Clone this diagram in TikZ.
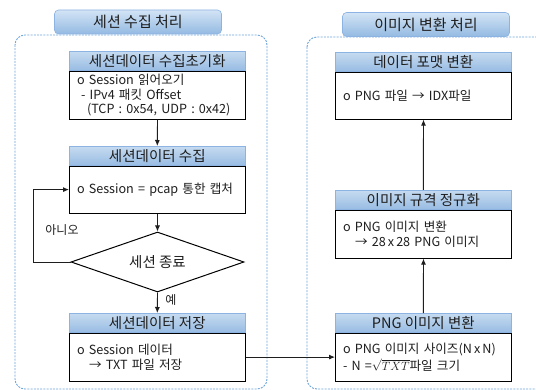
\documentclass[tikz,border=0pt]{standalone}
\usepackage{fontspec}
\setmainfont{Noto Sans CJK KR}
\usetikzlibrary{shapes.geometric,arrows.meta}
\definecolor{hdrtop}{HTML}{C6DBF0}
\definecolor{hdrbot}{HTML}{98BCE3}
\definecolor{ttltop}{HTML}{D3E4F5}
\definecolor{ttlbot}{HTML}{94BAE2}
\definecolor{hdrline}{HTML}{8DB3E2}
\definecolor{contblue}{HTML}{6FA6DC}
\definecolor{inkgray}{HTML}{1E1E1E}
\tikzset{
  hdrbox/.style={anchor=north west, minimum width=176pt, minimum height=19pt, inner sep=0pt,
    top color=hdrtop, bottom color=hdrbot, draw=hdrline, line width=0.6pt,
    text=inkgray, font=\fontsize{14.5}{15}\selectfont},
  bodybox/.style={anchor=north west, minimum height=48pt, text width=161pt, inner xsep=7.5pt, inner ysep=0pt,
    draw=black, line width=1pt, fill=white, align=left, text=inkgray,
    font=\fontsize{12.6}{14.5}\selectfont},
  ttlbox/.style={minimum width=167pt, minimum height=24pt, inner sep=0pt, rounded corners=4pt,
    top color=ttltop, bottom color=ttlbot, draw=hdrline, line width=0.6pt,
    text=inkgray, font=\fontsize{15}{16}\selectfont},
  cont/.style={draw=contblue, line width=0.9pt, dash pattern=on 2pt off 1.2pt, rounded corners=10pt},
  arr/.style={draw=inkgray, line width=0.9pt, -{Latex[length=6pt,width=5pt]}},
  lbl/.style={text=inkgray, font=\fontsize{12}{13}\selectfont}
}
\begin{document}
\begin{tikzpicture}[x=1pt,y=-1pt]
\useasboundingbox (0,0) rectangle (536,390);
\clip (0,0) rectangle (536,390);
\fill[white] (0,0) rectangle (536,390);
% containers
\draw[cont] (15,35) rectangle (267,389);
\draw[cont] (307,37) rectangle (560,389);
\node[ttlbox] (t1) at (138,22) {세션 수집 처리};
\node[ttlbox] (t2) at (426,24.5) {이미지 변환 처리};
% left column
\node[hdrbox] (b1h) at (69,51) {세션데이터 수집초기화};
\node[bodybox, minimum height=48pt] (b1b) at (b1h.south west) {o Session 읽어오기\\\hspace*{4pt}- IPv4 패킷 Offset\\\hspace*{10pt}(TCP : 0x54, UDP : 0x42)};
\node[hdrbox] (b2h) at (69,146) {세션데이터 수집};
\node[bodybox, minimum height=47pt] (b2b) at (b2h.south west) {o Session = pcap 통한 캡처};
\node[diamond, draw=black, line width=1pt, fill=white, minimum width=173pt, minimum height=60pt, aspect=2.9, inner sep=0pt, text=inkgray, font=\fontsize{14.5}{15}\selectfont] (dia) at (157.5,262) {세션 종료};
\node[hdrbox] (b3h) at (69,313) {세션데이터 저장};
\node[bodybox] (b3b) at (b3h.south west) {o Session 데이터\\\hspace*{12pt}→ TXT 파일 저장};
% right column
\node[hdrbox] (r1h) at (335,52) {데이터 포맷 변환};
\node[bodybox, minimum height=47pt] (r1b) at (r1h.south west) {o PNG 파일 → IDX파일};
\node[hdrbox] (r2h) at (335,190) {이미지 규격 정규화};
\node[bodybox] (r2b) at (r2h.south west) {o PNG 이미지 변환\\\hspace*{12pt}→ 28\,x\,28 PNG 이미지};
\node[hdrbox] (r3h) at (335,313) {PNG 이미지 변환};
\node[bodybox] (r3b) at (r3h.south west) {o PNG 이미지 사이즈(N\,x\,N)\\[2.5pt]- N =$\sqrt{TXT}$파일 크기};
% labels
\node[lbl] (no) at (62,230) {아니오};
\node[lbl] (yes) at (171,300) {예};
% connectors
\coordinate (loopc) at (33,262);
\draw[arr] (b1b.south) -- (b2h.north);
\draw[arr] (b2b.south) -- (dia.north);
\draw[arr] (dia.south) -- (b3h.north);
\draw[arr] (dia.west) -- (dia.west -| loopc) |- (b2b.west);
\draw[arr] (b3b.east) -- (r3b.west);
\draw[arr] (r3h.north) -- (r2b.south);
\draw[arr] (r2h.north) -- (r1b.south);
\end{tikzpicture}
\end{document}
